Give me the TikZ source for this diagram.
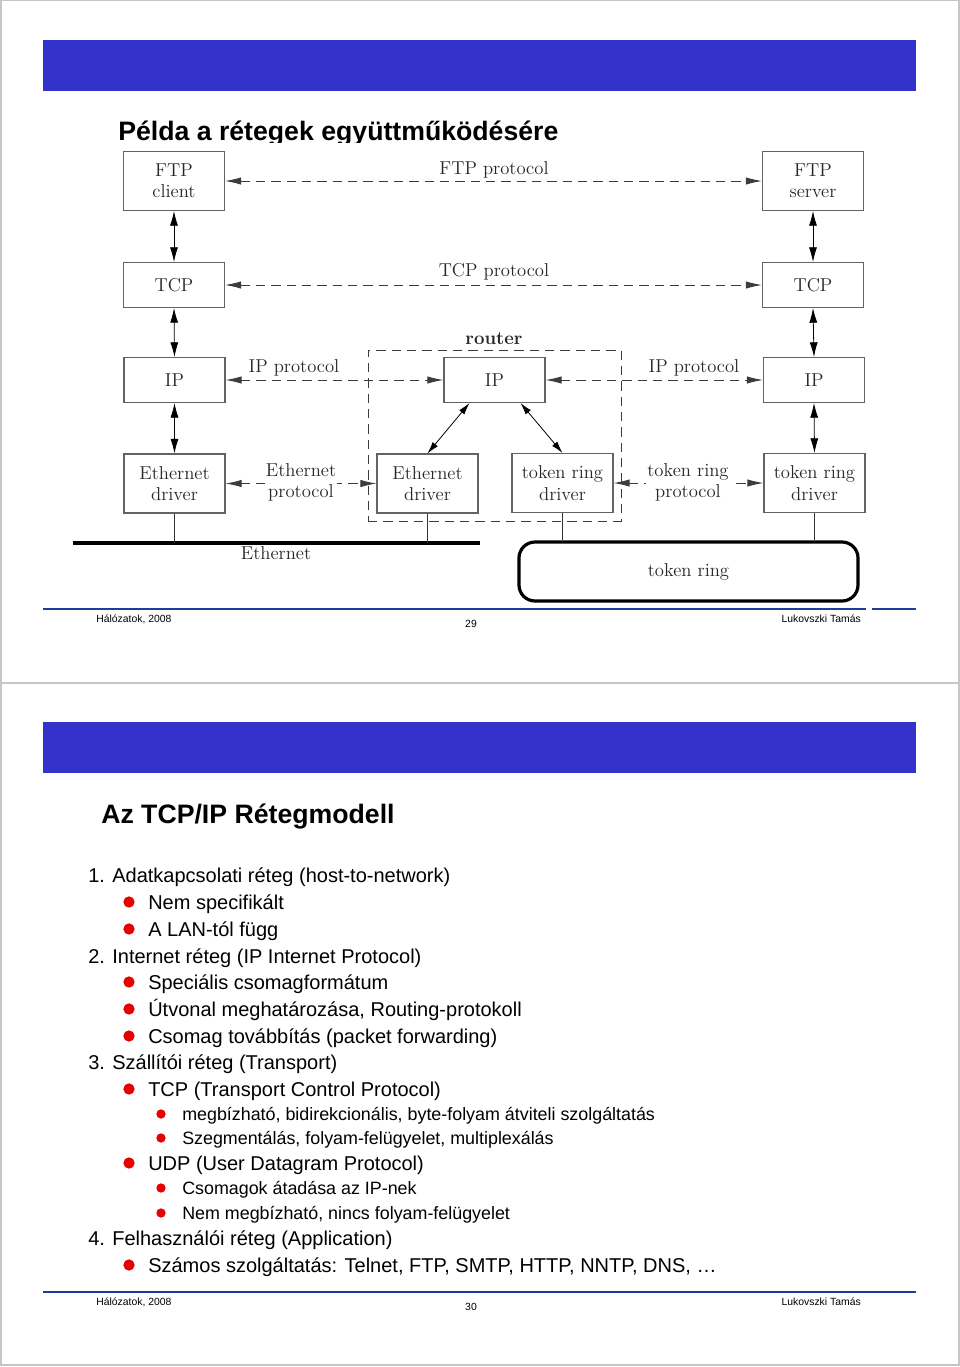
\documentclass[tikz,border=0pt]{standalone}
\usepackage{fontspec}
\setsansfont{Liberation Sans}
\usetikzlibrary{arrows.meta,calc}
\definecolor{slideblue}{RGB}{51,51,204}
\definecolor{footblue}{RGB}{30,60,160}
\definecolor{bulletred}{RGB}{230,0,0}
\definecolor{diag}{RGB}{60,60,60}
\tikzset{
  px/.style={x=0.75pt,y=-0.75pt},
  layerbox/.style={draw=diag!80,line width=0.8pt,minimum width=75.75pt,minimum height=33.75pt,inner sep=0pt,align=center,font=\fontsize{14}{16}\selectfont,text=black!85},
  twobox/.style={layerbox,minimum height=44.25pt},
  proto/.style={draw=diag,dashed,dash pattern=on 7pt off 4.5pt,line width=0.7pt,{Latex[length=12pt,width=5.5pt]}-{Latex[length=12pt,width=5.5pt]}},
  stack/.style={draw=black,line width=0.6pt,{Latex[length=11pt,width=6pt]}-{Latex[length=11pt,width=6pt]}},
  diagarrow/.style={draw=black,line width=0.6pt,{Latex[length=9pt,width=5pt]}-{Latex[length=9pt,width=5pt]}},
  plabel/.style={inner sep=0pt,align=center,font=\fontsize{14}{15.5}\selectfont,text=black!85},
  lvl0/.style={anchor=base west,inner sep=0pt,font=\sffamily\fontsize{15}{17}\selectfont},
  lvl1/.style={anchor=base west,inner sep=0pt,font=\sffamily\fontsize{15}{17}\selectfont},
  lvl2/.style={anchor=base west,inner sep=0pt,font=\sffamily\fontsize{13.4}{15}\selectfont},
  bul1/.style={circle,fill=bulletred,inner sep=0pt,minimum size=8.5pt},
  bul2/.style={circle,fill=bulletred,inner sep=0pt,minimum size=7pt},
  foot/.style={inner sep=0pt,font=\sffamily\fontsize{7.8}{9}\selectfont},
  stitle/.style={anchor=base west,inner sep=0pt,font=\sffamily\bfseries\fontsize{20}{24}\selectfont},
}
\begin{document}
\begin{tikzpicture}[px]
\useasboundingbox (0,0) rectangle (960,1367);
\fill[white] (0,0) rectangle (960,1367);
% page frames
\draw[gray!45,line width=1.2pt] (1,0) rectangle (959,683);
\draw[gray!45,line width=1.2pt] (1,683) rectangle (959,1365);

% ---------- slide 1 ----------
\fill[slideblue] (43,40) rectangle (916,91);
\node[stitle] (title1) at (118,140) {Példa a rétegek együttműködésére};
\fill[white] (65,143) rectangle (870,607);

% boxes
\node[twobox] (ftpc) at (174,181) {FTP\\client};
\node[twobox] (ftps) at (813,181) {FTP\\server};
\node[layerbox] (tcpL) at (174,285) {TCP};
\node[layerbox] (tcpR) at (813,285) {TCP};
\node[layerbox] (ipL) at (174.5,380) {IP};
\node[layerbox] (ipr) at (494.5,380) {IP};
\node[layerbox] (ipR) at (814,380) {IP};
\node[twobox] (ethL) at (174.5,483.5) {Ethernet\\driver};
\node[twobox] (ethr) at (427.5,483.5) {Ethernet\\driver};
\node[twobox] (trr) at (562.5,483) {token ring\\driver};
\node[twobox] (trR) at (814.5,483) {token ring\\driver};

% router box
\node[draw=diag,dashed,dash pattern=on 7pt off 4.5pt,line width=0.7pt,minimum width=189.75pt,minimum height=128.25pt,inner sep=0pt] (router) at (494.5,435.5) {};
\node[plabel,font=\bfseries\fontsize{14}{16}\selectfont] (routerlbl) at (494,339) {router};

% protocol arrows
\draw[proto] (ftpc.east) -- (ftps.west);
\node[plabel] (lftp) at (494,170) {FTP protocol};
\draw[proto] (tcpL.east) -- (tcpR.west);
\node[plabel] (ltcp) at (494,272) {TCP protocol};
\draw[proto] (ipL.east) -- (ipr.west);
\node[plabel] (lipL) at (294,368) {IP protocol};
\draw[proto] (ipr.east) -- (ipR.west);
\node[plabel] (lipR) at (694,368) {IP protocol};
\draw[proto] (ethL.east) -- (ethr.west);
\node[plabel,fill=white,inner xsep=1pt] (leth) at (301,482) {Ethernet\\protocol};
\draw[proto] (trr.east) -- (trR.west);
\node[plabel,fill=white,inner xsep=1pt] (ltr) at (688,482) {token ring\\protocol};

% stack arrows
\draw[stack] (ftpc.south) -- (tcpL.north);
\draw[stack] (tcpL.south) -- (ipL.north);
\draw[stack] (ipL.south) -- (ethL.north);
\draw[stack] (ftps.south) -- (tcpR.north);
\draw[stack] (tcpR.south) -- (ipR.north);
\draw[stack] (ipR.south) -- (trR.north);
\draw[diagarrow] ([xshift=-18.75pt]ipr.south) -- (ethr.north);
\draw[diagarrow] ([xshift=19.5pt]ipr.south) -- (trr.north);

% Ethernet bus
\coordinate (ethA) at (73,543);
\coordinate (ethB) at (480,543);
\draw[black,line width=3pt] (ethA) -- (ethB);
\node[plabel] (lethbus) at (276,553) {Ethernet};
\draw[black!80,line width=0.6pt] (ethL.south) -- (ethL.south |- ethA);
\draw[black!80,line width=0.6pt] (ethr.south) -- (ethr.south |- ethA);

% token ring
\node[draw=black,line width=2.4pt,rounded corners=12pt,minimum width=254.25pt,minimum height=44.25pt,inner sep=0pt,font=\fontsize{14}{16}\selectfont,text=black!85] (tring) at (688.5,571.5) {token ring};
\draw[black!80,line width=0.6pt] (trr.south) -- (trr.south |- tring.north);
\draw[black!80,line width=0.6pt] (trR.south) -- (trR.south |- tring.north);

% footer 1
\draw[footblue,line width=2pt] (43,609) -- (866,609);
\draw[footblue,line width=2pt] (872,609) -- (916,609);
\node[foot,anchor=base west] (f1a) at (96,622) {Hálózatok, 2008};
\node[foot,anchor=base] (f1b) at (471,627) {29};
\node[foot,anchor=base east] (f1c) at (861,622) {Lukovszki Tamás};

% ---------- slide 2 ----------
\fill[slideblue] (43,722) rectangle (916,773);
\node[stitle] (title2) at (101,823) {Az TCP/IP Rétegmodell};

\node[lvl0] (i1) at (88,882) {1. Adatkapcsolati réteg (host-to-network)};
\node[bul1] (b11) at (129,902) {};
\node[lvl1] (i11) at (148,909) {Nem specifikált};
\node[bul1] (b12) at (129,929) {};
\node[lvl1] (i12) at (148,936) {A LAN-tól függ};
\node[lvl0] (i2) at (88,963) {2. Internet réteg (IP Internet Protocol)};
\node[bul1] (b21) at (129,982) {};
\node[lvl1] (i21) at (148,989) {Speciális csomagformátum};
\node[bul1] (b22) at (129,1009) {};
\node[lvl1] (i22) at (148,1016) {Útvonal meghatározása, Routing-protokoll};
\node[bul1] (b23) at (129,1036) {};
\node[lvl1] (i23) at (148,1043) {Csomag továbbítás (packet forwarding)};
\node[lvl0] (i3) at (88,1069) {3. Szállítói réteg (Transport)};
\node[bul1] (b31) at (129,1089) {};
\node[lvl1] (i31) at (148,1096) {TCP (Transport Control Protocol)};
\node[bul2] (b311) at (161,1114) {};
\node[lvl2] (i311) at (182,1120) {megbízható, bidirekcionális, byte-folyam átviteli szolgáltatás};
\node[bul2] (b312) at (161,1138) {};
\node[lvl2] (i312) at (182,1144) {Szegmentálás, folyam-felügyelet, multiplexálás};
\node[bul1] (b32) at (129,1163) {};
\node[lvl1] (i32) at (148,1170) {UDP (User Datagram Protocol)};
\node[bul2] (b321) at (161,1188) {};
\node[lvl2] (i321) at (182,1194) {Csomagok átadása az IP-nek};
\node[bul2] (b322) at (161,1213) {};
\node[lvl2] (i322) at (182,1219) {Nem megbízható, nincs folyam-felügyelet};
\node[lvl0] (i4) at (88,1245) {4. Felhasználói réteg (Application)};
\node[bul1] (b41) at (129,1265) {};
\node[lvl1] (i41) at (148,1272) {Számos szolgáltatás: Telnet, FTP, SMTP, HTTP, NNTP, DNS, …};

% footer 2
\draw[footblue,line width=2pt] (43,1292) -- (916,1292);
\node[foot,anchor=base west] (f2a) at (96,1305) {Hálózatok, 2008};
\node[foot,anchor=base] (f2b) at (471,1310) {30};
\node[foot,anchor=base east] (f2c) at (861,1305) {Lukovszki Tamás};
\end{tikzpicture}
\end{document}
